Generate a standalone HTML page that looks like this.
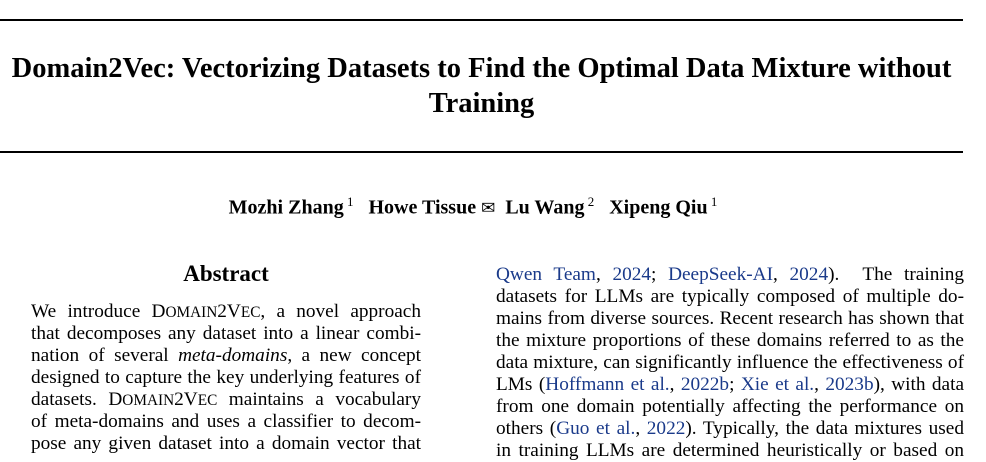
<!DOCTYPE html>
<html><head><meta charset="utf-8"><style>
body{margin:0;width:986px;height:452px;overflow:hidden;background:#fff;font-family:"Liberation Serif",serif;color:#000}
.rule{position:absolute;left:0;width:963px;height:2px;background:#000}
.t{position:absolute;left:-10px;width:983px;text-align:center;font-weight:bold;font-size:28.5px;line-height:34px}
.l{position:absolute;font-size:19.3px;line-height:22px;height:22px;white-space:nowrap;text-align:justify;text-align-last:justify}
.L{left:31px;width:390px}.R{left:496px;width:468px}
.c{color:#1a3a8a}
.sc{font-size:15.3px;text-transform:uppercase}
</style></head><body>
<div class="rule" style="top:19px"></div>
<div class="t" style="top:52px">Domain2Vec: Vectorizing Datasets to Find the Optimal Data Mixture without</div>
<div class="t" style="top:87px">Training</div>
<div class="rule" style="top:151px"></div>
<div style="position:absolute;left:0;width:946px;top:190px;text-align:center;font-weight:bold;font-size:20px;line-height:24px">Mozhi Zhang<sup style="font-weight:normal;font-size:13px">&nbsp;1</sup>&nbsp;&nbsp; Howe Tissue <span style="font-weight:normal;font-size:17px">✉</span>&nbsp;&nbsp;Lu Wang<sup style="font-weight:normal;font-size:13px">&nbsp;2</sup>&nbsp;&nbsp; Xipeng Qiu<sup style="font-weight:normal;font-size:13px">&nbsp;1</sup></div>
<div style="position:absolute;left:31px;width:390px;top:261px;text-align:center;font-weight:bold;font-size:23px;line-height:26px">Abstract</div>
<div>
<div class="l L" style="top:301px">We introduce D<span class="sc">omain</span>2V<span class="sc">ec</span>, a novel approach</div>
<div class="l L" style="top:323px">that decomposes any dataset into a linear combi-</div>
<div class="l L" style="top:345px">nation of several <i>meta-domains</i>, a new concept</div>
<div class="l L" style="top:367px">designed to capture the key underlying features of</div>
<div class="l L" style="top:389px">datasets. D<span class="sc">omain</span>2V<span class="sc">ec</span> maintains a vocabulary</div>
<div class="l L" style="top:411px">of meta-domains and uses a classifier to decom-</div>
<div class="l L" style="top:433px">pose any given dataset into a domain vector that</div>
</div>
<div>
<div class="l R" style="top:264px"><span class="c">Qwen Team</span>, <span class="c">2024</span>; <span class="c">DeepSeek-AI</span>, <span class="c">2024</span>).&nbsp; The training</div>
<div class="l R" style="top:286px">datasets for LLMs are typically composed of multiple do-</div>
<div class="l R" style="top:308px">mains from diverse sources. Recent research has shown that</div>
<div class="l R" style="top:330px">the mixture proportions of these domains referred to as the</div>
<div class="l R" style="top:352px">data mixture, can significantly influence the effectiveness of</div>
<div class="l R" style="top:374px">LMs (<span class="c">Hoffmann et al.</span>, <span class="c">2022b</span>; <span class="c">Xie et al.</span>, <span class="c">2023b</span>), with data</div>
<div class="l R" style="top:396px">from one domain potentially affecting the performance on</div>
<div class="l R" style="top:418px">others (<span class="c">Guo et al.</span>, <span class="c">2022</span>). Typically, the data mixtures used</div>
<div class="l R" style="top:440px">in training LLMs are determined heuristically or based on</div>
</div>
</body></html>
